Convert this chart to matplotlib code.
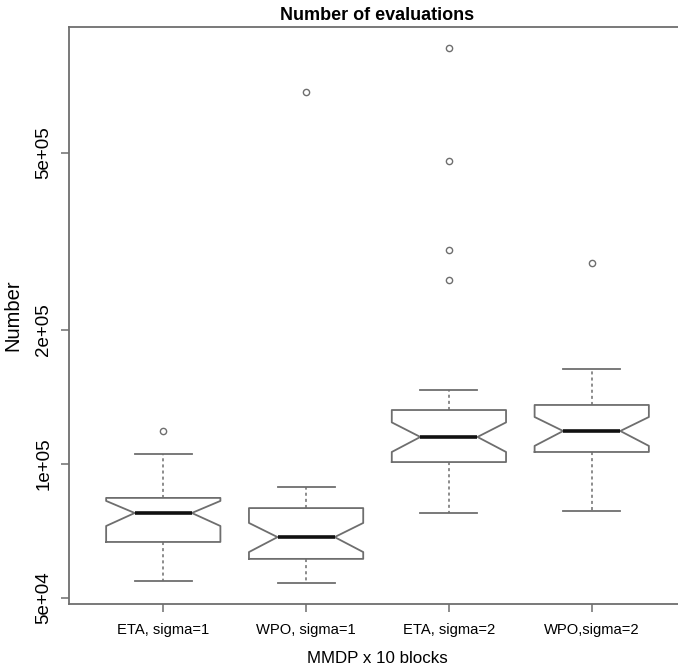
import numpy as np
import matplotlib
matplotlib.use("Agg")
import matplotlib.pyplot as plt
from matplotlib.ticker import FixedLocator, NullLocator

plt.rcParams['font.family'] = ['Liberation Sans', 'DejaVu Sans']

# values (log-scaled y axis)
labels = ['ETA, sigma=1', 'WPO, sigma=1', 'ETA, sigma=2', 'WPO,sigma=2']
whislo = [54600, 54000, 77600, 78400]
q1 = [66800, 61200, 101000, 106400]
med = [77600, 68500, 115000, 118600]
q3 = [83900, 79600, 132200, 135700]
whishi = [105300, 88800, 146600, 163500]
cilo = [72550, 63400, 106400, 109800]
cihi = [82600, 73700, 124000, 127500]
fliers = [[118600], [685500], [860800, 479600, 302700, 259200], [282900]]

yticks = [5e4, 1e5, 2e5, 5e5]
yticklabels = ['5e+04', '1e+05', '2e+05', '5e+05']

stats = []
for i in range(len(labels)):
  stats.append(dict(label=labels[i], whislo=whislo[i], q1=q1[i], med=med[i],
                    q3=q3[i], whishi=whishi[i], cilo=cilo[i], cihi=cihi[i],
                    fliers=fliers[i]))

fig = plt.figure(figsize=(6.78, 6.71), dpi=100)
ax = fig.add_axes([69/678, 67/671, 617/678, 577/671])

grey = '#6e6e6e'
ax.bxp(stats, positions=[1, 2, 3, 4], widths=0.8, shownotches=True,
       boxprops=dict(color=grey, linewidth=1.3),
       medianprops=dict(color='#111111', linewidth=2.6, solid_capstyle='butt'),
       whiskerprops=dict(color=grey, linewidth=1.1, linestyle=(0, (2, 2))),
       capprops=dict(color=grey, linewidth=1.3),
       flierprops=dict(marker='o', markerfacecolor='none', markeredgecolor=grey,
                       markersize=4.5, markeredgewidth=1.0),
       capwidths=0.4)

ax.set_yscale('log')
ax.set_ylim(48460, 959000)
ax.set_xlim(0.34, 4.66)
ax.yaxis.set_major_locator(FixedLocator(yticks))
ax.yaxis.set_minor_locator(NullLocator())
ax.set_yticklabels(yticklabels, rotation=90, va='center', fontsize=13.5)
ax.set_xticks([1, 2, 3, 4])
ax.set_xticklabels(labels, fontsize=10.6)

for s in ax.spines.values():
  s.set_color(grey)
  s.set_linewidth(1.3)
ax.tick_params(axis='both', direction='out', length=6, width=1.1, color=grey)
ax.tick_params(axis='x', pad=8)
ax.tick_params(axis='y', pad=6)

ax.set_title('Number of evaluations', fontsize=13, fontweight='bold', pad=5)
ax.set_xlabel('MMDP x 10 blocks', fontsize=12.2)
ax.set_ylabel('Number', fontsize=14.5)
ax.xaxis.set_label_coords(0.5, -0.0815)
ax.yaxis.set_label_coords(-0.075, 0.5)

fig.savefig('out.png', dpi=100)
